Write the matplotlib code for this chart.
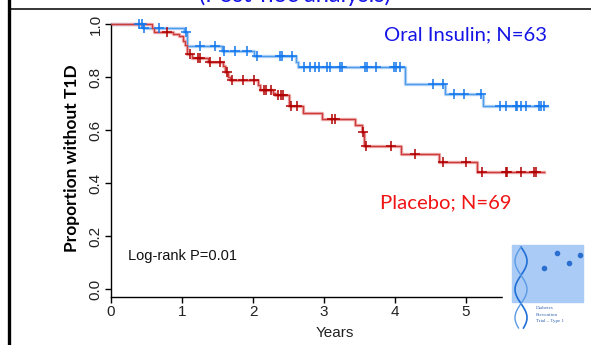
import numpy as np
import matplotlib.pyplot as plt
from matplotlib.lines import Line2D
from matplotlib.patches import Rectangle

# Kaplan-Meier steps (time in years, proportion without T1D)
oral_t = [0, 0.45, 1.03, 1.07, 1.57, 2.01, 2.61, 2.64, 4.14, 4.71, 5.24, 6.14]
oral_s = [1.0, 0.984, 0.969, 0.916, 0.898, 0.880, 0.858, 0.838, 0.772, 0.735, 0.692, 0.692]
oral_cens = [0.39, 0.44, 0.46, 0.68, 1.05, 1.26, 1.46, 1.59, 1.74, 1.92, 2.06, 2.38,
             2.41, 2.55, 2.72, 2.80, 2.87, 2.93, 3.04, 3.08, 3.22, 3.25, 3.58, 3.61,
             3.73, 3.98, 4.02, 4.07, 4.54, 4.68, 4.83, 4.97, 5.21, 5.48, 5.56, 5.70,
             5.72, 5.78, 5.85, 6.03, 6.06, 6.10]

plac_t = [0, 0.58, 0.60, 0.87, 0.96, 1.01, 1.04, 1.07, 1.14, 1.36, 1.58, 1.61, 1.65,
          1.68, 2.07, 2.10, 2.28, 2.31, 2.50, 2.51, 2.71, 2.97, 3.43, 3.53, 3.56,
          4.08, 4.62, 5.15, 6.10]
plac_s = [1.0, 0.985, 0.970, 0.963, 0.953, 0.937, 0.920, 0.885, 0.870, 0.856, 0.840,
          0.818, 0.800, 0.787, 0.768, 0.751, 0.740, 0.732, 0.707, 0.690, 0.665, 0.641,
          0.619, 0.594, 0.540, 0.509, 0.478, 0.442, 0.442]
plac_cens = [0.79, 1.11, 1.23, 1.25, 1.40, 1.54, 1.63, 1.70, 1.86, 2.01, 2.15, 2.19,
             2.25, 2.35, 2.39, 2.42, 2.54, 2.62, 3.11, 3.15, 3.55, 3.59, 3.94, 4.28,
             4.68, 5.00, 5.23, 5.56, 5.58, 5.78, 5.96, 5.98]

x_ticks = [0, 1, 2, 3, 4, 5]
y_ticks = [0.0, 0.2, 0.4, 0.6, 0.8, 1.0]


def surv_at(t_steps, s_steps, times):
    idx = np.searchsorted(t_steps, times, side='right') - 1
    return np.array(s_steps)[idx]


W, H = 591, 345
fig = plt.figure(figsize=(W / 100, H / 100), dpi=100)

def fx(px):
    return px / W

def fy(py):
    return 1 - py / H

# axes: x=0 at px 111, 71 px per year ; y=0 at px 289, 265 px per unit
xmax = 6.25
ymin, ymax = -0.03, 1.04
ax = fig.add_axes([fx(111), fy(289 - ymin * 265),
                   xmax * 71 / W, (ymax - ymin) * 265 / H])
ax.set_xlim(0, xmax)
ax.set_ylim(ymin, ymax)

# curves: light band behind a thin line
ax.step(oral_t, oral_s, where='post', color='#b4d3f6', lw=2.4, zorder=2)
ax.step(oral_t, oral_s, where='post', color='#4f9cec', lw=0.9, zorder=3)
ax.step(plac_t, plac_s, where='post', color='#eea8a8', lw=2.4, zorder=2)
ax.step(plac_t, plac_s, where='post', color='#cc3c3c', lw=0.9, zorder=3)

ax.plot(oral_cens, surv_at(oral_t, oral_s, oral_cens), ls='none', marker='+',
        ms=6.5, mew=1.1, color='#1478ee', zorder=4)
ax.plot(plac_cens, surv_at(plac_t, plac_s, plac_cens), ls='none', marker='+',
        ms=6.5, mew=1.1, color='#b00000', zorder=4)

for s in ['top', 'right']:
    ax.spines[s].set_visible(False)
ax.spines['left'].set_bounds(ymin, 1.0)
ax.spines['left'].set_linewidth(1.0)
ax.spines['bottom'].set_linewidth(1.0)

ax.set_xticks(x_ticks)
ax.set_xticklabels([str(v) for v in x_ticks], family='Liberation Sans', fontsize=11)
ax.set_yticks(y_ticks)
ax.set_yticklabels(['%.1f' % v for v in y_ticks], family='Liberation Sans',
                   fontsize=11, rotation=90, va='center')
ax.tick_params(axis='both', length=4.5, width=1.0, pad=1.5, colors='black',
               labelcolor='#222222')

ax.text(0.24, 0.125, 'Log-rank P=0.01', transform=ax.transData, fontsize=10.5,
        family='Liberation Sans', va='center', ha='left', color='#111111')

fig.text(fx(335), fy(333), 'Years', ha='center', va='center', fontsize=11,
         family='Liberation Sans', color='#222222')
fig.text(fx(72), fy(158), 'Proportion without T1D', rotation=90, ha='center',
         va='center', fontsize=12.5, fontweight='bold', family='Lato')

fig.text(fx(384), fy(40.7), 'Oral Insulin; N=63', ha='left', va='baseline',
         fontsize=14.6, family='Lato', color='#1414e6')
fig.text(fx(380), fy(208), 'Placebo; N=69', ha='left', va='baseline',
         fontsize=14.6, family='Lato', color='#f01414')

# slide title, cut off by the top edge as in the screenshot
fig.text(fx(295), fy(2), '(Post-hoc analysis)', ha='center', va='baseline',
         fontsize=17, family='Lato', color='#1414e6')

# slide frame lines
fig.add_artist(Line2D([fx(8.5), fx(8.5)], [0, 1], color='black', lw=2.4))
fig.add_artist(Line2D([fx(10), 1], [fy(9), fy(9)], color='black', lw=1.1))

# logo
fig.add_artist(Rectangle((fx(503), fy(336)), fx(88), 99 / H, color='white', zorder=5))
fig.add_artist(Rectangle((fx(512), fy(302)), fx(71), 57 / H, color='#a9cbf5', zorder=6))
hy = np.linspace(247, 328, 80)
fig.add_artist(Line2D(fx(521 + 6 * np.sin((hy - 247) / 9.0)), fy(hy), color='#1f6fd6',
                      lw=1.2, zorder=7))
fig.add_artist(Line2D(fx(521 - 6 * np.sin((hy - 247) / 9.0)), fy(hy), color='#5b9ae6',
                      lw=1.0, zorder=7))
for hx, hyy in [(544, 268), (557, 253), (569, 263), (580, 255)]:
    fig.add_artist(Line2D([fx(hx)], [fy(hyy)], marker='o', ms=3, color='#2a6fd0',
                          zorder=7))
for i, word in enumerate(['Diabetes', 'Prevention', 'Trial \u2013 Type 1']):
    fig.text(fx(536), fy(308 + i * 6.5), word, fontsize=3.6, family='Liberation Serif',
             color='#3060b0', va='center', ha='left', zorder=8)

fig.savefig('out.png', dpi=100)
